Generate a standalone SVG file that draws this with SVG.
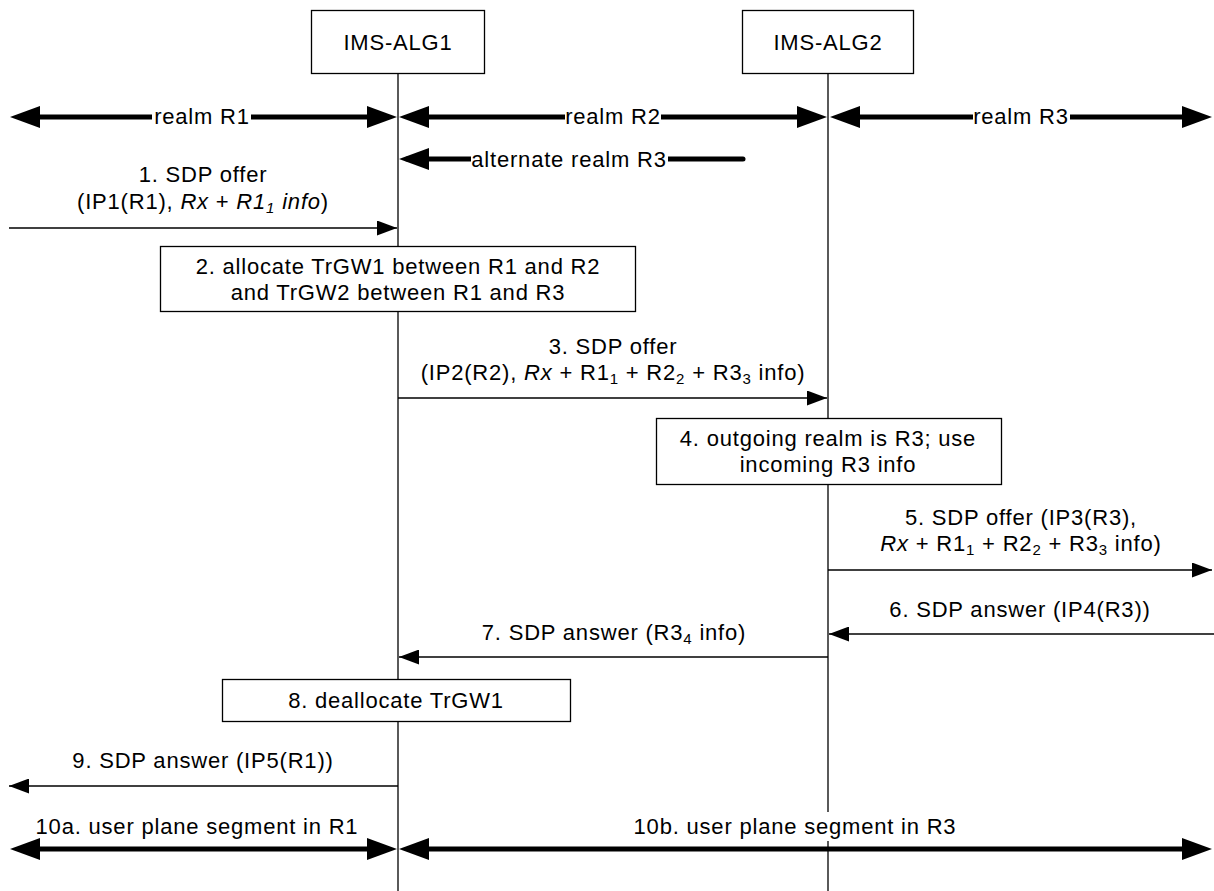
<svg xmlns="http://www.w3.org/2000/svg" width="1214" height="891" viewBox="0 0 1214 891">
<style>
.t{font-family:"Liberation Sans",Arial,sans-serif;font-size:22px;letter-spacing:0.8px;fill:#000;text-anchor:middle}
.sub{font-size:15px}
.it{font-style:italic}
.box{fill:#fff;stroke:#000;stroke-width:1.3}
.life{stroke:#000;stroke-width:1.3;fill:none}
.msg{stroke:#000;stroke-width:1.3;fill:none;marker-end:url(#ah)}
.thick{stroke:#000;stroke-width:5;fill:none;marker-start:url(#ahT);marker-end:url(#ahT)}
.bg{fill:#fff}
</style>
<defs>
<marker id="ah" markerUnits="userSpaceOnUse" markerWidth="20" markerHeight="15" refX="20" refY="7.5" orient="auto-start-reverse"><path d="M0,0 L20,7.5 L0,15 z" fill="#000"/></marker>
<marker id="ahT" markerUnits="userSpaceOnUse" markerWidth="30" markerHeight="22" refX="22" refY="11" orient="auto-start-reverse"><path d="M0,0 L30,11 L0,22 z" fill="#000"/></marker>
</defs>
<rect width="1214" height="891" fill="#fff"/>

<g id="alg1">
<line class="life" x1="398" y1="73" x2="398" y2="891"/>
<rect class="box" x="311.5" y="10.5" width="173" height="63"/>
<text class="t" x="398" y="50">IMS-ALG1</text>
</g>
<g id="alg2">
<line class="life" x1="828" y1="73" x2="828" y2="891"/>
<rect class="box" x="742.5" y="10.5" width="171" height="63"/>
<text class="t" x="828" y="50">IMS-ALG2</text>
</g>

<g id="connectors">
<g id="realmR1">
<line class="thick" x1="18" y1="117" x2="389" y2="117"/>
<rect class="bg" x="152" y="104" width="99" height="24"/>
<text class="t" x="202" y="124">realm R1</text>
</g>
<g id="realmR2">
<line class="thick" x1="407" y1="117" x2="819" y2="117"/>
<rect class="bg" x="565" y="104" width="96" height="24"/>
<text class="t" x="613" y="124">realm R2</text>
</g>
<g id="realmR3">
<line class="thick" x1="838" y1="117" x2="1204" y2="117"/>
<rect class="bg" x="973" y="104" width="97" height="24"/>
<text class="t" x="1021" y="124">realm R3</text>
</g>
<g id="altR3">
<line x1="407" y1="159" x2="743" y2="159" stroke="#000" stroke-width="5" stroke-linecap="round" marker-start="url(#ahT)"/>
<rect class="bg" x="471" y="146" width="197" height="24"/>
<text class="t" x="569" y="167">alternate realm R3</text>
</g>

<g id="m1">
<text class="t" x="203" y="182">1. SDP offer</text>
<text class="t" x="203" y="209">(IP1(R1), <tspan class="it">Rx</tspan> + <tspan class="it">R1</tspan><tspan class="it sub" dy="4">1</tspan><tspan class="it" dy="-4"> info</tspan>)</text>
<line class="msg" x1="9" y1="228" x2="397" y2="228"/>
</g>
<g id="m3">
<text class="t" x="613" y="354">3. SDP offer</text>
<text class="t" x="613" y="380">(IP2(R2), <tspan class="it">Rx</tspan> + R1<tspan class="sub" dy="4">1</tspan><tspan dy="-4"> + R2</tspan><tspan class="sub" dy="4">2</tspan><tspan dy="-4"> +  R3</tspan><tspan class="sub" dy="4">3</tspan><tspan dy="-4"> info)</tspan></text>
<line class="msg" x1="398" y1="398" x2="827" y2="398"/>
</g>
<g id="m5">
<text class="t" x="1021" y="525">5. SDP offer (IP3(R3),</text>
<text class="t" x="1021" y="551"><tspan class="it">Rx</tspan> + R1<tspan class="sub" dy="4">1</tspan><tspan dy="-4"> + R2</tspan><tspan class="sub" dy="4">2</tspan><tspan dy="-4"> + R3</tspan><tspan class="sub" dy="4">3</tspan><tspan dy="-4"> info)</tspan></text>
<line class="msg" x1="828" y1="570" x2="1212" y2="570"/>
</g>
<g id="m6">
<text class="t" x="1020" y="617">6. SDP answer (IP4(R3))</text>
<line class="msg" x1="1214" y1="634" x2="829" y2="634"/>
</g>
<g id="m7">
<text class="t" x="614" y="640">7. SDP answer (R3<tspan class="sub" dy="4">4</tspan><tspan dy="-4"> info)</tspan></text>
<line class="msg" x1="828" y1="657" x2="399" y2="657"/>
</g>
<g id="m9">
<text class="t" x="203" y="768">9. SDP answer (IP5(R1))</text>
<line class="msg" x1="398" y1="786" x2="9" y2="786"/>
</g>
<g id="up10a">
<text class="t" x="197" y="834">10a. user plane segment in R1</text>
<line class="thick" x1="18" y1="849" x2="389" y2="849"/>
</g>
<g id="up10b">
<rect class="bg" x="642" y="812" width="306" height="29"/>
<text class="t" x="795" y="834">10b. user plane segment in R3</text>
<line class="thick" x1="407" y1="849" x2="1204" y2="849"/>
</g>
</g>

<g id="box2">
<rect class="box" x="160.5" y="246.5" width="475" height="65"/>
<text class="t" x="398" y="274">2. allocate TrGW1 between R1 and R2</text>
<text class="t" x="398" y="300">and TrGW2 between R1 and R3</text>
</g>
<g id="box4">
<rect class="box" x="656.5" y="418.5" width="345" height="66"/>
<text class="t" x="828" y="446">4. outgoing realm is R3; use</text>
<text class="t" x="828" y="472">incoming R3 info</text>
</g>
<g id="box8">
<rect class="box" x="222.5" y="679.5" width="348" height="42"/>
<text class="t" x="396" y="708">8. deallocate TrGW1</text>
</g>
</svg>
